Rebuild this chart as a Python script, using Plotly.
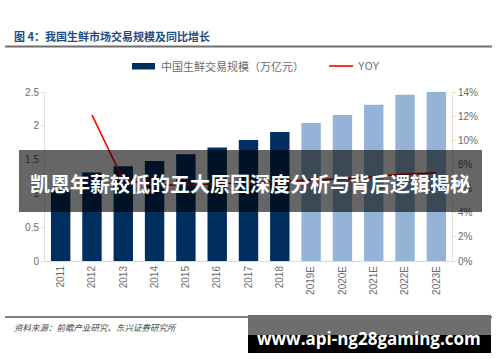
import plotly.graph_objects as go

years = ["2011", "2012", "2013", "2014", "2015", "2016", "2017", "2018",
         "2019E", "2020E", "2021E", "2022E", "2023E"]
scale = [1.05, 1.31, 1.40, 1.48, 1.58, 1.68, 1.79, 1.91, 2.04, 2.16, 2.31, 2.46, 2.51]
yoy_years = ["2012", "2013", "2014", "2015", "2016", "2017", "2018",
             "2019E", "2020E", "2021E", "2022E", "2023E"]
yoy = [0.121, 0.067, 0.063, 0.063, 0.064, 0.065, 0.066, 0.067, 0.068, 0.070, 0.072, 0.073]
left_ticks = [0, 0.5, 1, 1.5, 2, 2.5]
left_tick_text = ["0", "0.5", "1", "1.5", "2", "2.5"]

NAVY = "#002F5F"
LIGHT = "#95B3D7"
bar_colors = [LIGHT if y.endswith("E") else NAVY for y in years]

W, H = 500, 362
L, R, T, B = 45, 48, 92, 101
PW, PH = W - L - R, H - T - B

def px(x):
    return (x - L) / PW

def py(y):
    return (H - B - y) / PH

fig = go.Figure()
fig.add_trace(go.Bar(x=years, y=scale, marker=dict(color=bar_colors, line=dict(width=0)),
                     width=0.62, name="中国生鲜交易规模（万亿元）", showlegend=False))
fig.add_trace(go.Scatter(x=yoy_years, y=yoy, yaxis="y2", mode="lines",
                         line=dict(color="#FF0000", width=1.6), name="YOY", showlegend=False))

tick_font = dict(family="Liberation Sans, Arial, sans-serif", size=10, color="#6B6B6B")
fig.update_layout(
    width=W, height=H,
    margin=dict(l=L, r=R, t=T, b=B, autoexpand=False),
    paper_bgcolor="white", plot_bgcolor="white",
    font=dict(family="Noto Sans CJK SC, sans-serif"),
    bargap=0.38,
    xaxis=dict(type="category", tickangle=-90, tickfont=tick_font, showline=True,
               linecolor="#D9D9D9", linewidth=1, ticks="", showgrid=False),
    yaxis=dict(range=[0, 2.5], tickvals=left_ticks, ticktext=left_tick_text, tickfont=tick_font,
               showline=True, linecolor="#E2E2D6", ticks="outside", ticklen=3,
               tickcolor="#E2E2D6", showgrid=False, zeroline=False),
    yaxis2=dict(range=[0, 0.14], overlaying="y", side="right", tickformat=".0%", dtick=0.02,
                tickfont=tick_font, showline=True, linecolor="#E2E2D6", ticks="outside",
                ticklen=3, tickcolor="#E2E2D6", showgrid=False, zeroline=False),
)

shapes = []
annotations = []
# title and rule
annotations.append(dict(xref="paper", yref="paper", x=px(12), y=py(36), xanchor="left", yanchor="middle",
                        text="<b>图 4：我国生鲜市场交易规模及同比增长</b>", showarrow=False,
                        font=dict(size=11, color="#1F4E82", family="Noto Sans CJK SC")))
shapes.append(dict(type="line", xref="paper", yref="paper", x0=px(5), x1=px(492), y0=py(46.5), y1=py(46.5),
                   line=dict(color="#6E6E6E", width=2)))
# legend
shapes.append(dict(type="rect", xref="paper", yref="paper", x0=px(132), x1=px(155), y0=py(63), y1=py(69.5),
                   fillcolor=NAVY, line=dict(width=0)))
annotations.append(dict(xref="paper", yref="paper", x=px(159), y=py(66), xanchor="left", yanchor="middle",
                        text="中国生鲜交易规模（万亿元）", showarrow=False,
                        font=dict(size=11, color="#6B6B6B", family="Noto Sans CJK SC")))
shapes.append(dict(type="line", xref="paper", yref="paper", x0=px(329), x1=px(353), y0=py(66), y1=py(66),
                   line=dict(color="#FF0000", width=1.6)))
annotations.append(dict(xref="paper", yref="paper", x=px(356), y=py(66), xanchor="left", yanchor="middle",
                        text="YOY", showarrow=False,
                        font=dict(size=10, color="#6B6B6B", family="Liberation Sans, Arial")))
# bottom rule and source
shapes.append(dict(type="line", xref="paper", yref="paper", x0=px(5), x1=px(492), y0=py(317), y1=py(317),
                   line=dict(color="#555555", width=1.5)))
annotations.append(dict(xref="paper", yref="paper", x=px(12), y=py(327), xanchor="left", yanchor="middle",
                        text="<i>资料来源：前瞻产业研究、东兴证券研究所</i>", showarrow=False,
                        font=dict(size=8.5, color="#444444", family="Noto Sans CJK SC")))
# overlay banner
shapes.append(dict(type="rect", xref="paper", yref="paper", x0=px(19), x1=px(482), y0=py(150), y1=py(212),
                   fillcolor="rgba(0,0,0,0.6)", line=dict(width=0), layer="above"))
annotations.append(dict(xref="paper", yref="paper", x=px(250), y=py(183), xanchor="center", yanchor="middle",
                        text="<b>凯恩年薪较低的五大原因深度分析与背后逻辑揭秘</b>", showarrow=False,
                        font=dict(size=20, color="white", family="Noto Sans CJK SC")))
# url box
shapes.append(dict(type="rect", xref="paper", yref="paper", x0=px(248), x1=px(491), y0=py(315), y1=py(335),
                   fillcolor="#6E6E6E", line=dict(width=0), layer="above"))
shapes.append(dict(type="rect", xref="paper", yref="paper", x0=px(248), x1=px(491), y0=py(335), y1=py(353),
                   fillcolor="#000000", line=dict(width=0), layer="above"))
annotations.append(dict(xref="paper", yref="paper", x=px(369), y=py(338), xanchor="center", yanchor="middle",
                        text="<b>www.api-ng28gaming.com</b>", showarrow=False,
                        font=dict(size=17, color="white", family="Open Sans")))

fig.update_layout(shapes=shapes, annotations=annotations)
fig.write_html("out.html", config={"displayModeBar": False},
               post_script="document.body.style.margin='0';document.body.style.overflow='hidden';")
